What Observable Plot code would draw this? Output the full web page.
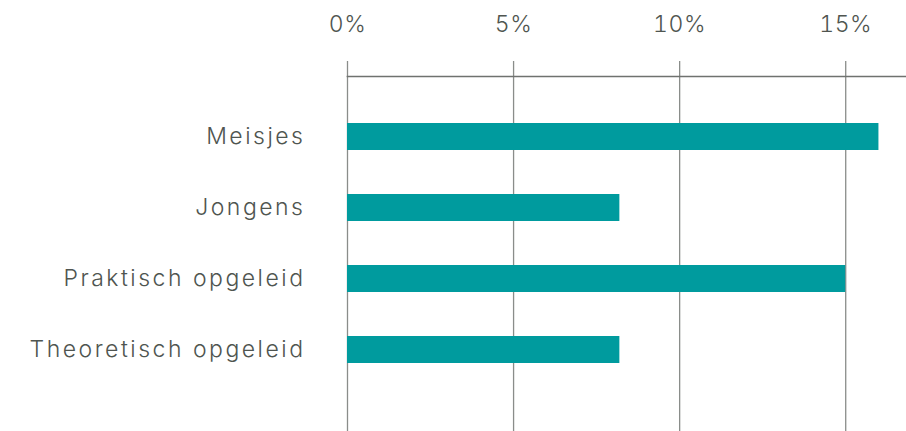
<!DOCTYPE html>
<html>
<head>
<meta charset="utf-8">
<script src="https://cdn.jsdelivr.net/npm/d3@7"></script>
<script src="https://cdn.jsdelivr.net/npm/@observablehq/plot@0.6"></script>
<style>
  html, body { margin: 0; padding: 0; background: #fff; }
  #chart svg { display: block; }
  .ylab text { letter-spacing: 2.5px; }
  .xlab text { letter-spacing: 0.6px; }
</style>
</head>
<body>
<div id="chart"></div>
<script>
const categories = ["Meisjes", "Jongens", "Praktisch opgeleid", "Theoretisch opgeleid"];
const values = [16.0, 8.2, 15.0, 8.2];
const xTicks = [0, 5, 10, 15];

const data = categories.map((c, i) => ({category: c, value: values[i]}));

const textColor = "#4f5550";
const font = "Inter, 'Open Sans', sans-serif";

const chart = Plot.plot({
  width: 906,
  height: 431,
  marginTop: 76,
  marginRight: 0,
  marginBottom: 0,
  marginLeft: 347,
  style: {fontFamily: font, background: "#fff", fontWeight: 300},
  x: {domain: [0, 16.83], axis: null},
  y: {domain: categories, paddingInner: 0.62, paddingOuter: 0.8, align: 0.41, axis: null},
  marks: [
    Plot.gridX(xTicks, {stroke: "#8a8d8a", strokeOpacity: 1, strokeWidth: 1.3}),
    Plot.axisX(xTicks, {
      anchor: "top",
      tickSize: 16,
      tickPadding: 29,
      stroke: "#8a8d8a",
      strokeWidth: 1.3,
      tickFormat: d => d + "%",
      fontSize: 23,
      fill: textColor,
      label: null,
      className: "xlab"
    }),
    Plot.frame({anchor: "top", stroke: "#6f726f", strokeWidth: 1.5}),
    Plot.barX(data, {x: "value", y: "category", fill: "#009b9e"}),
    Plot.axisY({
      anchor: "left",
      tickSize: 0,
      tickPadding: 42,
      fontSize: 23,
      fill: textColor,
      label: null,
      className: "ylab"
    })
  ]
});

document.getElementById("chart").appendChild(chart);
</script>
</body>
</html>
